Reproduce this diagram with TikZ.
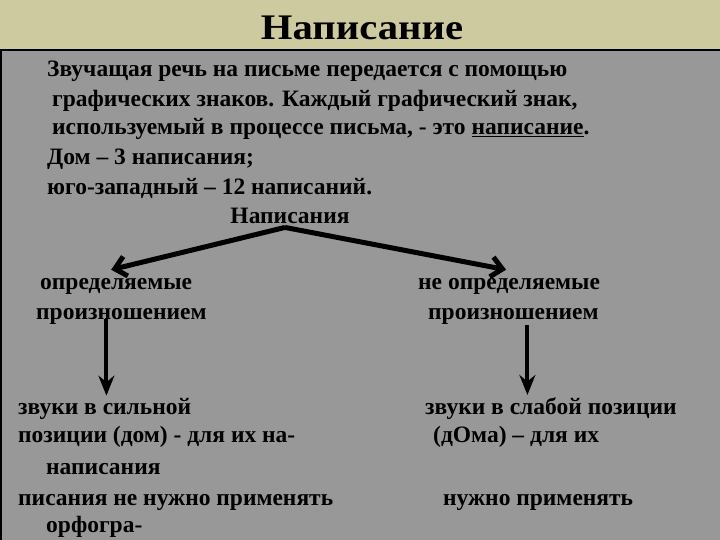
\documentclass[tikz,border=0pt]{standalone}
\usepackage{fontspec}
\setmainfont{Liberation Serif}
\usetikzlibrary{arrows.meta}

\definecolor{bandkhaki}{RGB}{206,202,160}
\definecolor{slidegrey}{RGB}{152,152,152}

\begin{document}
\begin{tikzpicture}[x=1pt,y=-1pt,
	txt/.style={anchor=base west,inner sep=0pt,font=\fontsize{23.5}{26}\selectfont\bfseries},
	diagarrow/.style={line width=5pt,-{Straight Barb[length=11pt,width=20pt]}},
	downarrow/.style={line width=4pt,-{Stealth[length=20pt,width=16pt]}}]
	\useasboundingbox (0,0) rectangle (720,540);
	
	%background
	\fill[slidegrey]	(0,0) rectangle (720,540);
	\fill[bandkhaki]	(0,0) rectangle (720,49);
	\draw[line width=1.5pt]	(0,50)--(720,50);
	\draw[line width=1.5pt]	(1,50)--(1,540);
	
	%title
	\node (title) at (362,28) {\fontsize{36}{40}\selectfont\bfseries\scalebox{1.13}[1]{Написание}};
	
	%text
	\node[txt] (t1) at (47,77) 	{Звучащая речь на письме передается с помощью};
	\node[txt] (t2) at (52,107) 	{графических знаков. Каждый графический знак,};
	\node[txt] (t3) at (52,135) 	{используемый в процессе письма, - это \underline{написание}.};
	\node[txt] (t4) at (47,165) 	{Дом – 3 написания;};
	\node[txt] (t5) at (47,195) 	{юго-западный – 12 написаний.};
	\node[txt,anchor=base] (head) at (290,223) {Написания};
	
	%left branch
	\node[txt] (detl) at (40,289) 		{определяемые};
	\node[txt] (proizl) at (36,319) 	{произношением};
	\node[txt] (zvl) at (18,414) 		{звуки в сильной};
	\node[txt] (l2) at (18,442) 		{позиции (дом) - для их на-};
	\node[txt] (l3) at (46,474) 		{написания};
	\node[txt] (l4) at (18,505) 		{писания не нужно применять};
	\node[txt] (l5) at (46,532) 		{орфогра-};
	
	%right branch
	\node[txt] (detr) at (418,289) 		{не определяемые};
	\node[txt] (proizr) at (428,319) 	{произношением};
	\node[txt] (zvr) at (425,414) 		{звуки в слабой позиции};
	\node[txt] (r2) at (433,442) 		{(дОма) – для их};
	\node[txt] (r4) at (443,505) 		{нужно применять};
	
	%arrows
	\draw[diagarrow]	(head.south) ++(-5,4) coordinate (apex) -- ([xshift=-5pt,yshift=8pt]detl.north);
	\draw[diagarrow]	(apex) -- ([xshift=-3pt,yshift=8pt]detr.north);
	\draw[downarrow]	([xshift=-15pt,yshift=5pt]proizl.south) -- ([xshift=-15pt,yshift=2pt]proizl.south |- zvl.north);
	\draw[downarrow]	([xshift=14pt,yshift=-1pt]proizr.south) -- ([xshift=14pt,yshift=2pt]proizr.south |- zvr.north);
\end{tikzpicture}
\end{document}
